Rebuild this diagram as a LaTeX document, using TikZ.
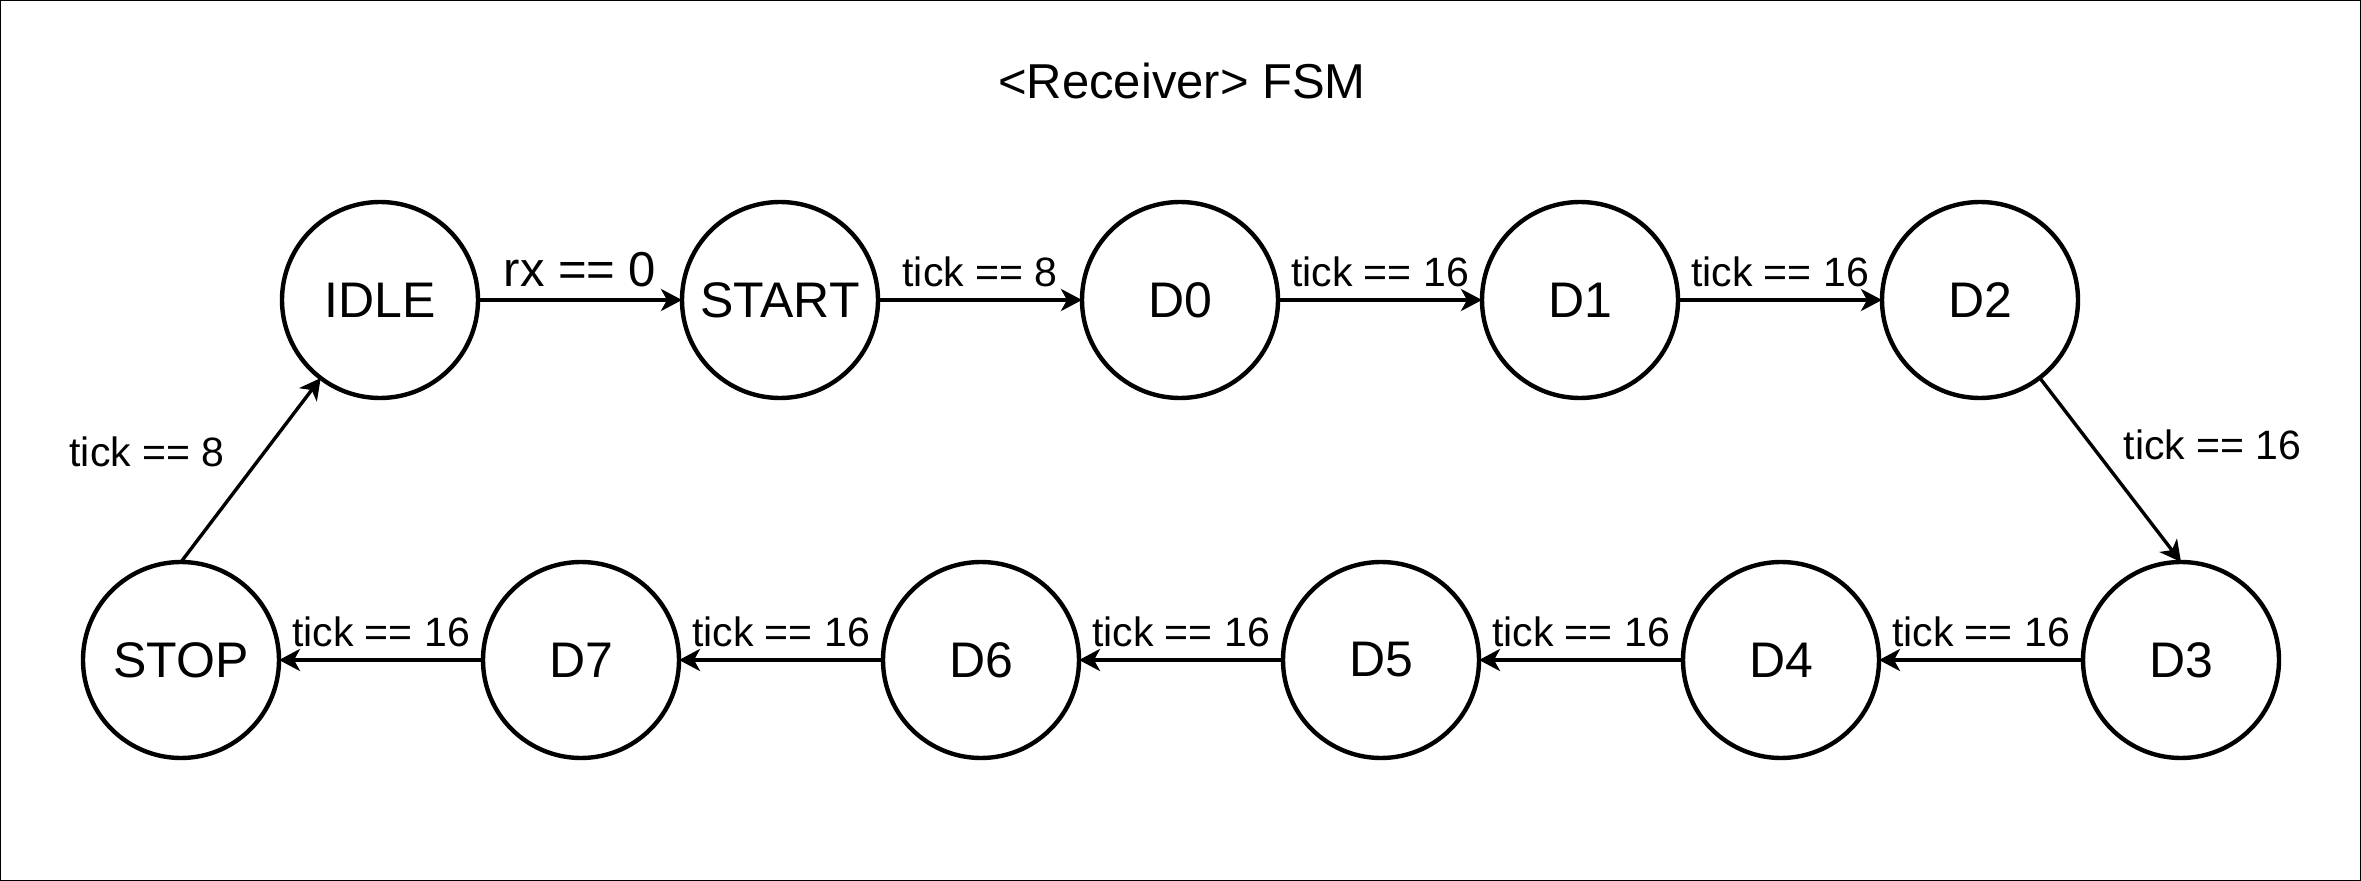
\documentclass[tikz,border=0pt]{standalone}
\usepackage{fontspec}
\setmainfont{Liberation Sans}
\usetikzlibrary{arrows.meta, positioning}
\newcommand{\statefont}{\fontsize{25}{30}\selectfont}
\newcommand{\condfont}{\fontsize{20.5}{24}\selectfont}
\newcommand{\rxfont}{\fontsize{24.5}{29}\selectfont}
\tikzstyle{state}=[draw,circle,line width=2.2pt,minimum size=98pt,inner sep=0pt,outer sep=0pt,font=\statefont]
\tikzstyle{cond}=[font=\condfont,above,inner sep=5.5pt]

\begin{document}
\begin{tikzpicture}[>={Stealth[length=10.5pt,width=11pt,inset=3pt]}, node distance=102pt, line width=2pt]
  \useasboundingbox (0,0) rectangle (1180.5pt,-440.5pt);
  \draw[line width=1pt] (0,0) rectangle (1180.5pt,-440.5pt);
  \node (title) at (591pt,-40.5pt) {\fontsize{24.5}{29}\selectfont <Receiver> FSM};
  % top row
  \node[state] (IDLE) at (190pt,-150pt) {IDLE};
  \node[state, right=of IDLE] (START) {START};
  \node[state, right=of START] (D0) {D0};
  \node[state, right=of D0] (D1) {D1};
  \node[state, right=of D1] (D2) {D2};
  % bottom row
  \node[state] (STOP) at (90.5pt,-330pt) {STOP};
  \node[state, right=of STOP] (D7) {D7};
  \node[state, right=of D7] (D6) {D6};
  \node[state, right=of D6] (D5) {D5};
  \node[state, right=of D5] (D4) {D4};
  \node[state, right=of D4] (D3) {D3};
  \draw[->] (IDLE) -- node[cond, font=\rxfont] (c0) {rx == 0} (START);
  \draw[->] (START) -- node[cond] (c1) {tick == 8} (D0);
  \draw[->] (D0) -- node[cond] (c2) {tick == 16} (D1);
  \draw[->] (D1) -- node[cond] (c3) {tick == 16} (D2);
  \draw[->, line width=1.7pt] (D2) -- node[pos=0.365, right=12pt, font=\condfont] (c4) {tick == 16} (D3.north);
  \draw[->] (D3) -- node[cond] (c5) {tick == 16} (D4);
  \draw[->] (D4) -- node[cond] (c6) {tick == 16} (D5);
  \draw[->] (D5) -- node[cond] (c7) {tick == 16} (D6);
  \draw[->] (D6) -- node[cond] (c8) {tick == 16} (D7);
  \draw[->] (D7) -- node[cond] (c9) {tick == 16} (STOP);
  \draw[->, line width=1.7pt] (STOP.north) -- node[pos=0.6, left=16pt, font=\condfont] (c10) {tick == 8} (IDLE);
\end{tikzpicture}
\end{document}
